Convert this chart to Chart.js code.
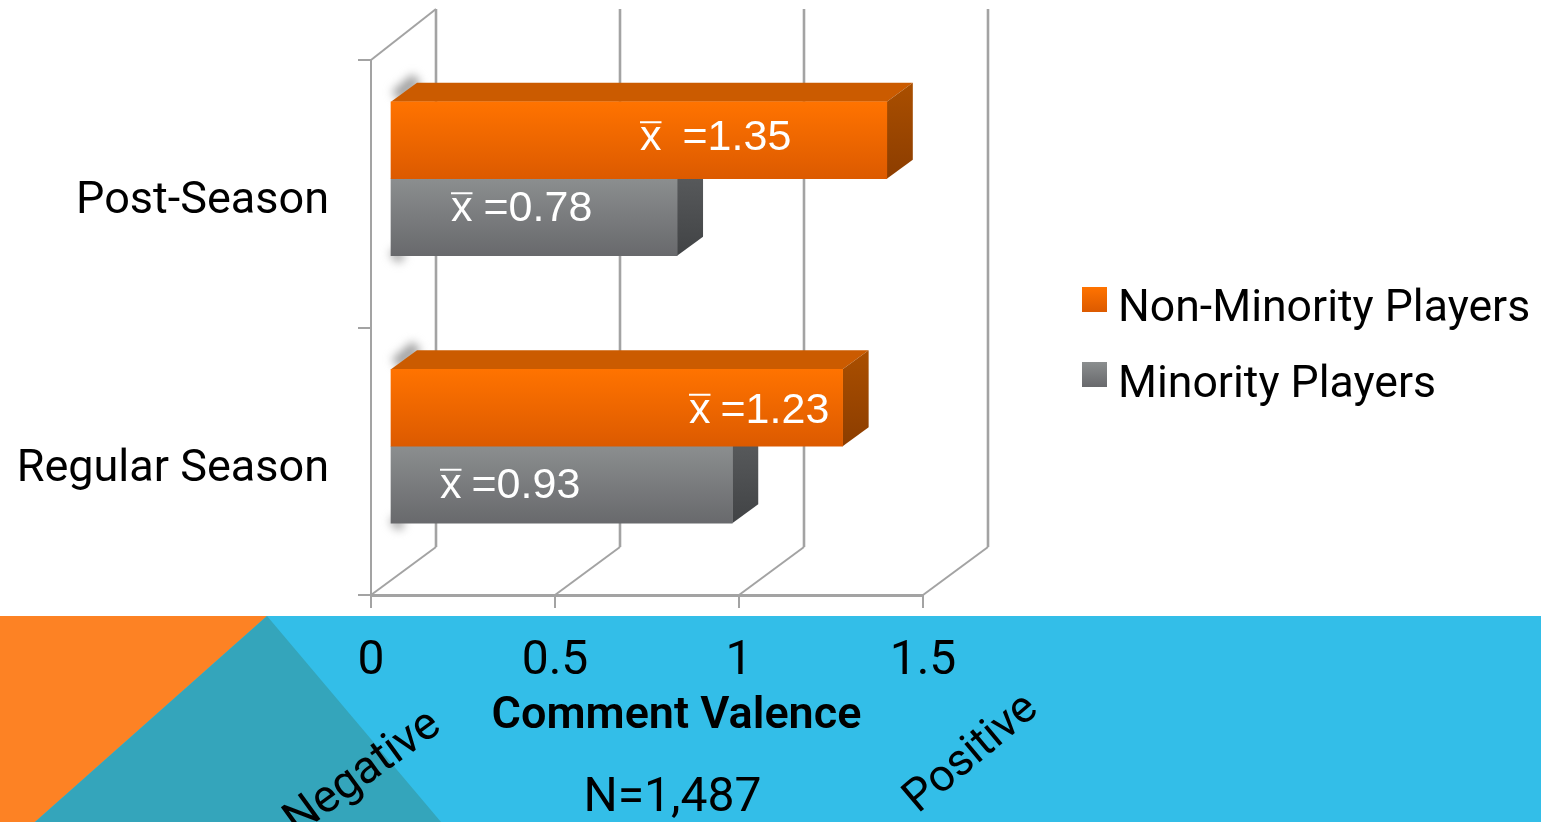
<!DOCTYPE html>
<html>
<head>
<meta charset="utf-8">
<title>Comment Valence</title>
<script src="https://cdn.jsdelivr.net/npm/chart.js@4"></script>
<style>
html, body { margin: 0; padding: 0; background: #fff; overflow: hidden; }
canvas { display: block; }
</style>
</head>
<body>
<canvas id="chart" width="1541" height="822"></canvas>
<script>
// Data
const categories = ['Post-Season', 'Regular Season'];
const nonMinority = [1.35, 1.23];
const minority = [0.78, 0.93];
const seriesNames = ['Non-Minority Players', 'Minority Players'];
const xTickValues = [0, 0.5, 1, 1.5];

// Look
const FONT = 'Roboto';
const BAR_H = 77;
const DEPTH_X = 26, DEPTH_Y = 19;       // bar extrusion
const WALL_X = 65, WALL_Y = 48;         // back wall offset of the box
const SHIFT_X = 19, SHIFT_Y = -15;      // bars sit inside the 3D box
const GRID = '#a3a3a3';
const BAND_TOP = 616;

const colors = [
    { front: ['#ff7300', '#dc5a00'], top: '#cb5b00', side: ['#aa4f00', '#8c3d00'] },
    { front: ['#8b8e8f', '#68696c'], top: '#6e7072', side: ['#5c5e60', '#414345'] }
];

// offset of the mean labels from the bar base / bar centre, per dataset then category
const labelOffsets = [
    [{ dx: 249, gap: 21, dy: 10 }, { dx: 298, gap: 10, dy: 15 }],
    [{ dx: 60, gap: 11, dy: 4 }, { dx: 49, gap: 10, dy: 13 }]
];

function vGrad(ctx, y0, y1, stops) {
    const g = ctx.createLinearGradient(0, y0, 0, y1);
    g.addColorStop(0, stops[0]);
    g.addColorStop(1, stops[1]);
    return g;
}

function frontFill(c) {
    const i = c.datasetIndex;
    const center = c.chart.scales.y.getPixelForValue(c.dataIndex);
    if (!Number.isFinite(center)) return colors[i].front[0];
    const top = i === 0 ? center - BAR_H : center;
    return vGrad(c.chart.ctx, top, top + BAR_H, colors[i].front);
}

function poly(ctx, pts, fill) {
    ctx.beginPath();
    pts.forEach((p, k) => k ? ctx.lineTo(p[0], p[1]) : ctx.moveTo(p[0], p[1]));
    ctx.closePath();
    ctx.fillStyle = fill;
    ctx.fill();
}

// Slide background, behind everything
const backdrop = {
    id: 'backdrop',
    beforeDraw(chart) {
        const ctx = chart.ctx, w = chart.width, h = chart.height;
        ctx.save();
        ctx.fillStyle = '#fff';
        ctx.fillRect(0, 0, w, h);
        ctx.fillStyle = '#33bee8';
        ctx.fillRect(0, BAND_TOP, w, h - BAND_TOP);
        poly(ctx, [[0, BAND_TOP], [267, BAND_TOP], [35, h], [0, h]], '#fd8224');
        poly(ctx, [[267, BAND_TOP], [441, h], [35, h]], '#34a5bb');
        ctx.restore();
    }
};

// Floor and back wall of the 3D box
const box3d = {
    id: 'box3d',
    beforeDatasetsDraw(chart) {
        const ctx = chart.ctx, x = chart.scales.x, a = chart.chartArea;
        const backBottom = a.bottom - WALL_Y;
        const backTop = a.top - 51;
        ctx.save();
        ctx.strokeStyle = GRID;
        xTickValues.forEach(v => {
            const px = x.getPixelForValue(v);
            ctx.lineWidth = 2;
            ctx.beginPath();
            ctx.moveTo(px, a.bottom);
            ctx.lineTo(px + WALL_X, backBottom);
            ctx.stroke();
            ctx.lineWidth = 2.6;
            ctx.beginPath();
            ctx.moveTo(px + WALL_X, backBottom);
            ctx.lineTo(px + WALL_X, backTop);
            ctx.stroke();
        });
        ctx.lineWidth = 2;
        ctx.beginPath();
        ctx.moveTo(a.left, a.top);
        ctx.lineTo(a.left + WALL_X, backTop);
        ctx.stroke();
        ctx.restore();
    }
};

// Extruded faces of the bars, then shift the library's own bars into the box
const bars3d = {
    id: 'bars3d',
    beforeDatasetsDraw(chart) {
        const ctx = chart.ctx;
        ctx.save();
        ctx.translate(SHIFT_X, SHIFT_Y);
        [1, 0].forEach(i => {
            chart.getDatasetMeta(i).data.forEach(bar => {
                const top = bar.y - BAR_H / 2, bottom = bar.y + BAR_H / 2;
                // soft shadow on the left wall
                ctx.save();
                ctx.filter = 'blur(5px)';
                ctx.strokeStyle = '#a0a0a0';
                ctx.lineWidth = 13;
                ctx.beginPath();
                if (i === 0) {
                    ctx.moveTo(bar.base + 5, top - 5);
                    ctx.lineTo(bar.base + DEPTH_X, top - DEPTH_Y - 4);
                } else {
                    ctx.moveTo(bar.base + 10, bottom - 4);
                    ctx.lineTo(bar.base + 3, bottom + 3);
                }
                ctx.stroke();
                ctx.restore();
                poly(ctx, [[bar.base, top], [bar.base + DEPTH_X, top - DEPTH_Y],
                    [bar.x + DEPTH_X, top - DEPTH_Y], [bar.x, top]], colors[i].top);
                poly(ctx, [[bar.x, top], [bar.x + DEPTH_X, top - DEPTH_Y],
                    [bar.x + DEPTH_X, bottom - DEPTH_Y], [bar.x, bottom]],
                    vGrad(ctx, top - DEPTH_Y, bottom, colors[i].side));
            });
        });
    },
    afterDatasetsDraw(chart) {
        const ctx = chart.ctx;
        // mean labels, still in the shifted frame
        ctx.fillStyle = '#fff';
        ctx.font = '43px "Liberation Sans"';
        ctx.textAlign = 'left';
        ctx.textBaseline = 'alphabetic';
        [nonMinority, minority].forEach((values, i) => {
            chart.getDatasetMeta(i).data.forEach((bar, j) => {
                const o = labelOffsets[i][j];
                const left = bar.base + o.dx;
                const base = bar.y + o.dy;
                ctx.fillText('x', left, base);
                const w = ctx.measureText('x').width;
                ctx.fillRect(left, base - 29, w, 2);
                ctx.fillText('=' + values[j].toFixed(2), left + w + o.gap, base);
            });
        });
        ctx.restore();
    }
};

// Legend and free text around the plot
const legendItems = [
    { x: 1082, y: 287, textY: 321 },
    { x: 1082, y: 362, textY: 397 }
];
const annotations = [
    { text: 'Comment Valence', x: 676.5, y: 728, font: '600 45px ' + FONT, rot: 0 },
    { text: 'N=1,487', x: 672.5, y: 811, font: '48px ' + FONT, rot: 0 },
    { text: 'Negative', x: 370, y: 783, font: '46px ' + FONT, rot: -36 },
    { text: 'Positive', x: 979, y: 763, font: '45px ' + FONT, rot: -40 }
];

const slideText = {
    id: 'slideText',
    afterDraw(chart) {
        const ctx = chart.ctx;
        ctx.save();
        ctx.textBaseline = 'alphabetic';
        legendItems.forEach((it, i) => {
            ctx.fillStyle = vGrad(ctx, it.y, it.y + 25, colors[i].front);
            ctx.fillRect(it.x, it.y, 25, 25);
            ctx.fillStyle = '#000';
            ctx.font = '44.6px ' + FONT;
            ctx.textAlign = 'left';
            ctx.fillText(seriesNames[i], 1118, it.textY);
        });
        ctx.fillStyle = '#000';
        ctx.textAlign = 'center';
        annotations.forEach(a => {
            ctx.save();
            ctx.translate(a.x, a.y);
            ctx.rotate(a.rot * Math.PI / 180);
            ctx.font = a.font;
            ctx.fillText(a.text, 0, 0);
            ctx.restore();
        });
        ctx.restore();
    }
};

new Chart(document.getElementById('chart'), {
    type: 'bar',
    plugins: [backdrop, box3d, bars3d, slideText],
    data: {
        labels: categories,
        datasets: [
            { label: seriesNames[0], data: nonMinority, backgroundColor: frontFill, barThickness: BAR_H },
            { label: seriesNames[1], data: minority, backgroundColor: frontFill, barThickness: BAR_H }
        ]
    },
    options: {
        indexAxis: 'y',
        responsive: false,
        animation: false,
        layout: { padding: { top: 60, right: 618, left: 0, bottom: 0 } },
        plugins: {
            legend: { display: false },
            tooltip: { enabled: false },
            title: { display: false }
        },
        scales: {
            x: {
                min: 0,
                max: 1.5,
                afterFit(s) { s.height = 227; },
                afterBuildTicks(s) { s.ticks = xTickValues.map(v => ({ value: v })); },
                border: { color: GRID, width: 3 },
                grid: { drawOnChartArea: false, color: GRID, tickLength: 13, lineWidth: 2 },
                ticks: {
                    color: '#000',
                    padding: 25,
                    maxRotation: 0,
                    autoSkip: false,
                    callback: v => String(v),
                    font: { family: FONT, size: 48 }
                }
            },
            y: {
                afterFit(s) { s.width = 371; },
                border: { color: GRID, width: 2 },
                grid: { drawOnChartArea: false, color: GRID, tickLength: 13, lineWidth: 2 },
                ticks: {
                    color: '#000',
                    padding: 29,
                    labelOffset: 8,
                    font: { family: FONT, size: 45 }
                }
            }
        }
    }
});
</script>
</body>
</html>
